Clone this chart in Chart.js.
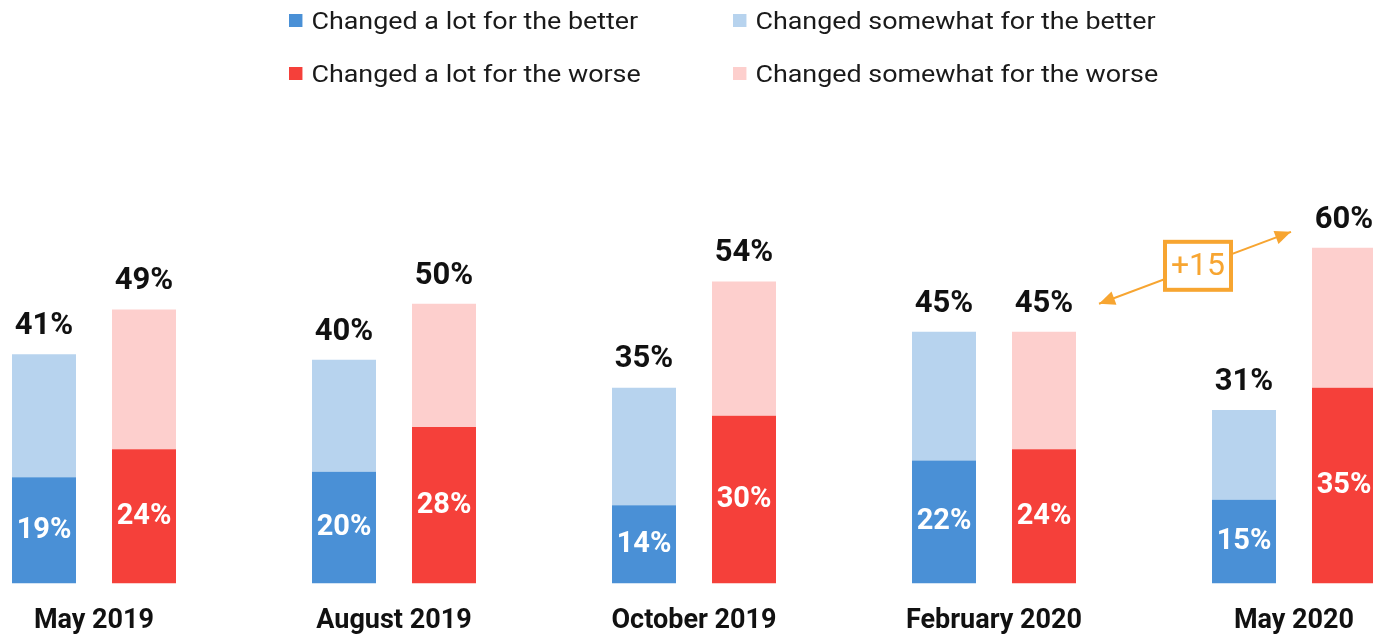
<!DOCTYPE html>
<html>
<head>
<meta charset="utf-8">
<script src="https://cdn.jsdelivr.net/npm/chart.js@4"></script>
<style>
  html, body { margin: 0; padding: 0; background: #fff; }
  body { width: 1373px; height: 634px; overflow: hidden; position: relative; font-family: Roboto, sans-serif; }
  #wrap { position: absolute; left: -56px; top: 0; width: 1500px; height: 650px; }
  .legend { position: absolute; font-size: 24px; line-height: 30px; color: #1a1a1a; white-space: nowrap; transform: scaleX(1.12); transform-origin: left center; }
  .legend i { display: inline-block; width: 12px; height: 13px; margin-right: 8px; vertical-align: 2px; }
</style>
</head>
<body>
<div id="wrap"><canvas id="chart"></canvas></div>
<div id="legend"></div>
<script>
// ── Data ──────────────────────────────────────────
const periods = ['May 2019', 'August 2019', 'October 2019', 'February 2020', 'May 2020'];
const betterLot = [19, 20, 14, 22, 15];
const betterSome = [22, 20, 21, 23, 16];
const worseLot = [24, 28, 30, 24, 35];
const worseSome = [25, 22, 24, 21, 25];
const betterTotal = [41, 40, 35, 45, 31];
const worseTotal = [49, 50, 54, 45, 60];
const changeLabel = '+15';

const colors = {
  betterLot: '#4a90d6',
  betterSome: '#b7d3ee',
  worseLot: '#f5403a',
  worseSome: '#fdcfcd',
  orange: '#f7a531'
};

// ── Legend (HTML) ─────────────────────────────────
const legendItems = [
  { text: 'Changed a lot for the better', color: colors.betterLot, x: 289, y: 6 },
  { text: 'Changed somewhat for the better', color: colors.betterSome, x: 733, y: 6 },
  { text: 'Changed a lot for the worse', color: colors.worseLot, x: 289, y: 59 },
  { text: 'Changed somewhat for the worse', color: colors.worseSome, x: 733, y: 59 }
];
document.getElementById('legend').innerHTML = legendItems.map(l =>
  `<div class="legend" style="left:${l.x}px;top:${l.y}px"><i style="background:${l.color}"></i>${l.text}</div>`
).join('');

// ── Labels + arrow plugin ─────────────────────────
const labelPlugin = {
  id: 'labels',
  afterDatasetsDraw(chart) {
    const ctx = chart.ctx;
    ctx.save();
    ctx.textAlign = 'center';
    ctx.textBaseline = 'middle';

    // inside labels on the "a lot" segments
    [0, 2].forEach(di => {
      const meta = chart.getDatasetMeta(di);
      meta.data.forEach((bar, i) => {
        ctx.font = 'bold 29px Roboto';
        ctx.fillStyle = '#fff';
        ctx.fillText(chart.data.datasets[di].data[i] + '%', bar.x, (bar.y + bar.base) / 2);
      });
    });

    // totals above each stack
    const tops = { 1: betterTotal, 3: worseTotal };
    const labelPos = {};
    Object.keys(tops).forEach(di => {
      const meta = chart.getDatasetMeta(+di);
      labelPos[di] = [];
      meta.data.forEach((bar, i) => {
        const y = bar.y - 28;
        ctx.font = 'bold 31px Roboto';
        ctx.fillStyle = '#111';
        ctx.fillText(tops[di][i] + '%', bar.x, y);
        labelPos[di].push({ x: bar.x, y: y });
      });
    });

    // +15 arrow from Feb 2020 worse total to May 2020 worse total
    const a = labelPos[3][3], b = labelPos[3][4];
    const x1 = a.x + 55, y1 = a.y, x2 = b.x - 53, y2 = b.y + 12;
    ctx.strokeStyle = colors.orange;
    ctx.fillStyle = colors.orange;
    ctx.lineWidth = 2;
    ctx.beginPath();
    ctx.moveTo(x1, y1);
    ctx.lineTo(x2, y2);
    ctx.stroke();
    const ang = Math.atan2(y2 - y1, x2 - x1);
    [[x2, y2, ang], [x1, y1, ang + Math.PI]].forEach(([hx, hy, t]) => {
      ctx.beginPath();
      ctx.moveTo(hx, hy);
      ctx.lineTo(hx - 16 * Math.cos(t) + 7 * Math.sin(t), hy - 16 * Math.sin(t) - 7 * Math.cos(t));
      ctx.lineTo(hx - 16 * Math.cos(t) - 7 * Math.sin(t), hy - 16 * Math.sin(t) + 7 * Math.cos(t));
      ctx.closePath();
      ctx.fill();
    });
    const mx = (x1 + x2) / 2 + 3, my = (y1 + y2) / 2 - 2;
    ctx.fillStyle = '#fff';
    ctx.fillRect(mx - 33, my - 24, 66, 48);
    ctx.lineWidth = 4;
    ctx.strokeRect(mx - 33, my - 24, 66, 48);
    ctx.fillStyle = colors.orange;
    ctx.font = '32px Roboto';
    ctx.fillText(changeLabel, mx, my + 1);
    ctx.restore();
  }
};

// ── Chart ─────────────────────────────────────────
const canvas = document.getElementById('chart');
new Chart(canvas.getContext('2d'), {
  type: 'bar',
  data: {
    labels: periods,
    datasets: [
      { label: 'Changed a lot for the better', data: betterLot, backgroundColor: colors.betterLot, stack: 'better' },
      { label: 'Changed somewhat for the better', data: betterSome, backgroundColor: colors.betterSome, stack: 'better' },
      { label: 'Changed a lot for the worse', data: worseLot, backgroundColor: colors.worseLot, stack: 'worse' },
      { label: 'Changed somewhat for the worse', data: worseSome, backgroundColor: colors.worseSome, stack: 'worse' }
    ]
  },
  options: {
    responsive: true,
    maintainAspectRatio: false,
    animation: false,
    categoryPercentage: 2 / 3,
    barPercentage: 0.64,
    layout: { padding: { top: 24, left: 0, right: 0, bottom: 0 } },
    plugins: { legend: { display: false }, tooltip: { enabled: false } },
    scales: {
      x: {
        stacked: true,
        grid: { display: false },
        border: { display: false },
        ticks: { color: '#111', font: { family: 'Roboto', size: 27, weight: 'bold' }, padding: 13 }
      },
      y: {
        stacked: true,
        display: false,
        min: 0,
        max: 100
      }
    }
  },
  plugins: [labelPlugin]
});
</script>
</body>
</html>
